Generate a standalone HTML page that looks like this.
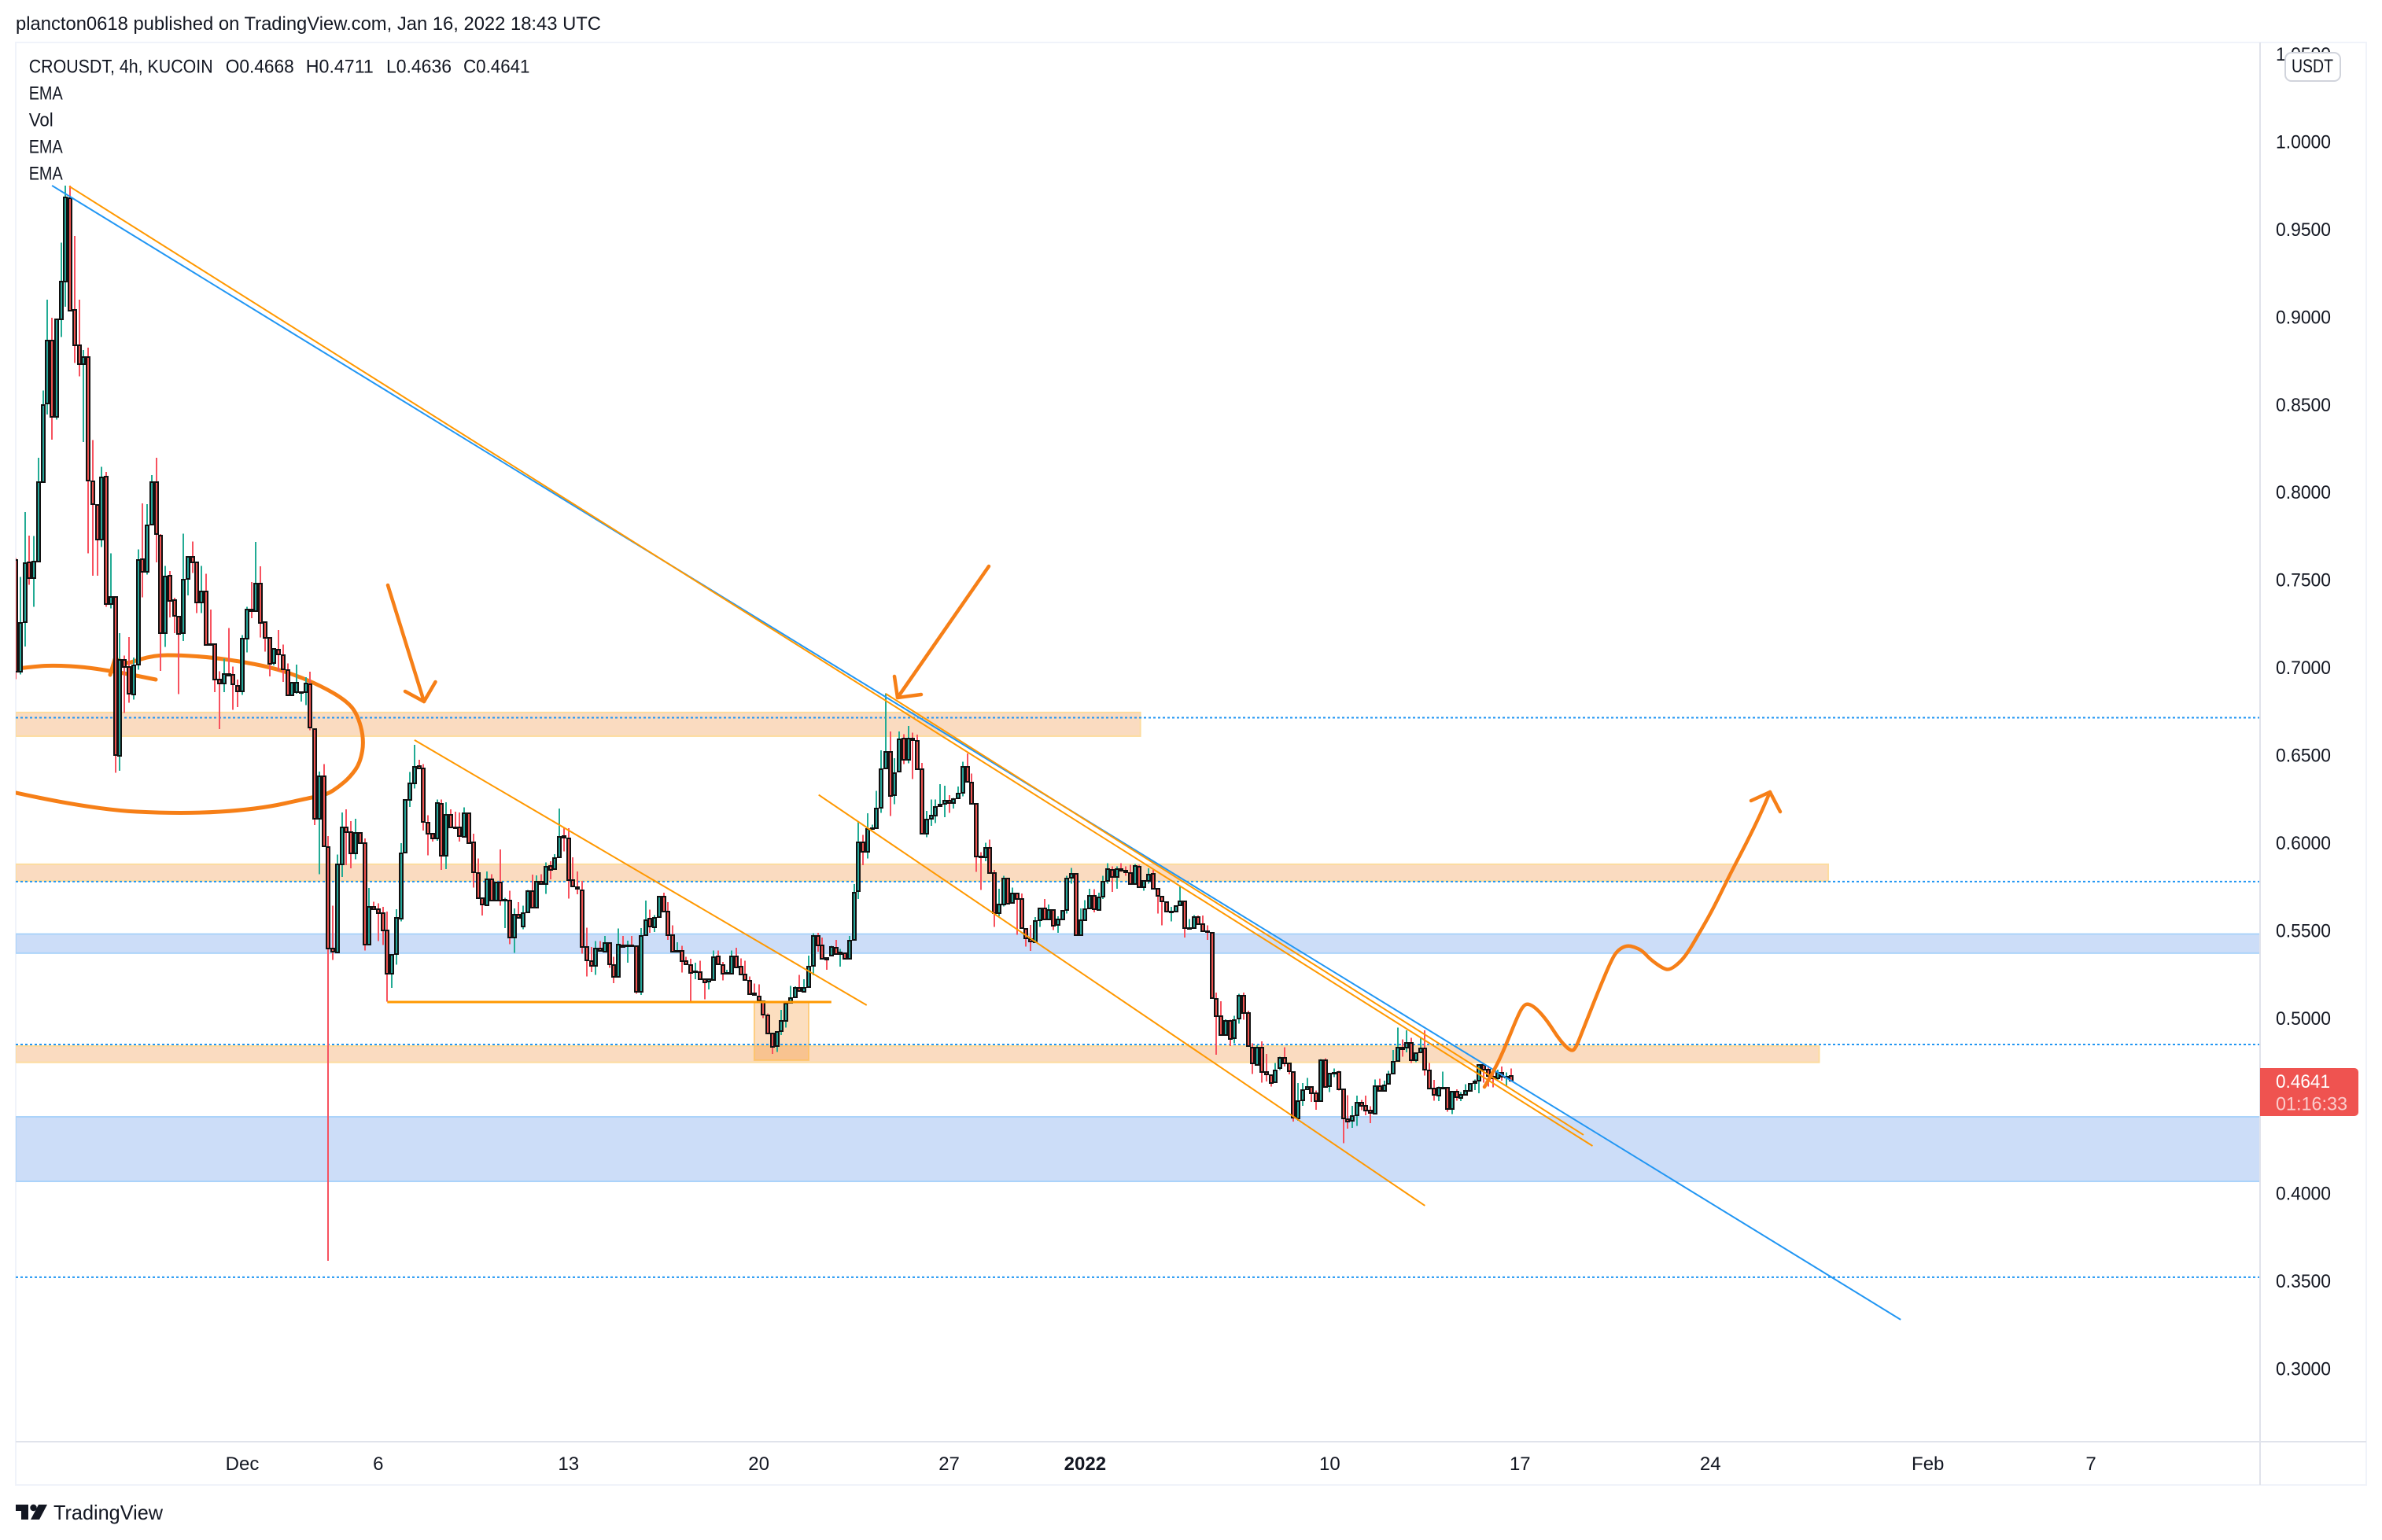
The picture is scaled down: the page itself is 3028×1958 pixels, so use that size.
<!DOCTYPE html>
<html lang="en">
<head>
<meta charset="utf-8">
<title>CROUSDT 4h chart</title>
<style>
html,body{margin:0;padding:0;background:#fff;}
svg{display:block;}
text{font-family:"Liberation Sans",sans-serif;fill:#131722;}
</style>
</head>
<body>
<svg id="root" xmlns="http://www.w3.org/2000/svg" width="3028" height="1958" viewBox="0 0 3028 1958">
  <defs><clipPath id="plot-clip"><rect x="20" y="54" width="2853" height="1779"/></clipPath></defs>
  <rect x="0" y="0" width="3028" height="1958" fill="#ffffff"/>
  <text x="20" y="38" font-size="24" textLength="744" lengthAdjust="spacingAndGlyphs">plancton0618 published on TradingView.com, Jan 16, 2022 18:43 UTC</text>
  <rect x="20" y="54" width="2988" height="1834" fill="#ffffff" stroke="#f0f3fa" stroke-width="2"/>
  <g id="plot" clip-path="url(#plot-clip)"></g>
  <line x1="2873" y1="54" x2="2873" y2="1888" stroke="#e0e3eb" stroke-width="2"/>
  <line x1="20" y1="1833" x2="3008" y2="1833" stroke="#e0e3eb" stroke-width="2"/>
  <g id="price-axis"></g>
  <g id="time-axis"></g>

  <g>
    <text x="36.7" y="92.7" font-size="24" textLength="234" lengthAdjust="spacingAndGlyphs">CROUSDT, 4h, KUCOIN</text>
    <text x="286.7" y="92.7" font-size="24" textLength="87" lengthAdjust="spacingAndGlyphs">O0.4668</text>
    <text x="388.8" y="92.7" font-size="24" textLength="86" lengthAdjust="spacingAndGlyphs">H0.4711</text>
    <text x="491" y="92.7" font-size="24" textLength="83" lengthAdjust="spacingAndGlyphs">L0.4636</text>
    <text x="589" y="92.7" font-size="24" textLength="84.5" lengthAdjust="spacingAndGlyphs">C0.4641</text>
    <text x="36.7" y="126.7" font-size="24" textLength="43" lengthAdjust="spacingAndGlyphs">EMA</text>
    <text x="36.7" y="160.7" font-size="24" textLength="31" lengthAdjust="spacingAndGlyphs">Vol</text>
    <text x="36.7" y="194.7" font-size="24" textLength="43" lengthAdjust="spacingAndGlyphs">EMA</text>
    <text x="36.7" y="228.7" font-size="24" textLength="43" lengthAdjust="spacingAndGlyphs">EMA</text>
  </g>

  <g>
    <rect x="2905" y="67" width="70" height="36" rx="8" fill="#ffffff" stroke="#d1d4dc" stroke-width="2"/>
    <text x="2913" y="92" font-size="24" textLength="53" lengthAdjust="spacingAndGlyphs">USDT</text>
  </g>

  <g>
    <path d="M2873 1358H2993a5 5 0 0 1 5 5V1414a5 5 0 0 1 -5 5H2873Z" fill="#ef5350"/>
    <text x="2893" y="1383" font-size="24" textLength="69" lengthAdjust="spacingAndGlyphs" style="fill:#ffffff">0.4641</text>
    <text x="2893" y="1411.5" font-size="24" textLength="91" lengthAdjust="spacingAndGlyphs" style="fill:#ffffff;fill-opacity:.7">01:16:33</text>
  </g>

  <g>
    <path d="M20 1913H36V1932H27V1921H20Z" fill="#131722"/>
    <circle cx="42.5" cy="1917" r="4.2" fill="#131722"/>
    <path d="M49 1913H60L50 1932H39Z" fill="#131722"/>
    <text x="68" y="1932" font-size="26" textLength="139" lengthAdjust="spacingAndGlyphs">TradingView</text>
  </g>
</svg>

<script>
// Candle series: CROUSDT 4h, prices
const opens=[
.7613,.6978,.7259,.7599,.7509,.7607,.8058,.8507,.8863,.8432,
.8987,.9203,.9679,.9038,.8838,.8729,.8769,.8061,.7927,.7729,
.8088,.7360,.7400,.6497,.7043,.7001,.6847,.7016,.7617,.7547,
.7816,.8058,.7753,.7195,.7524,.7382,.7292,.7195,.7505,.7632,
.7599,.7370,.7435,.7131,.7131,.6930,.6908,.6963,.6956,.6896,
.6866,.7165,.7330,.7320,.7479,.7259,.7170,.7023,.7101,.7071,
.6986,.6841,.6859,.6856,.6859,.6903,.6650,.6139,.6377,.5973,
.5394,.5374,.5875,.6085,.6059,.5940,.6055,.5997,.5416,.5633,
.5621,.5599,.5501,.5252,.5361,.5569,.5943,.6243,.6339,.6436,
.6423,.6116,.6052,.6026,.6224,.5922,.6160,.6089,.6085,.6034,
.6169,.6000,.5825,.5682,.5645,.5793,.5670,.5775,.5667,.5670,
.5461,.5588,.5521,.5603,.5723,.5630,.5778,.5765,.5868,.5845,
.5917,.6037,.6026,.5786,.5745,.5730,.5406,.5326,.5299,.5394,
.5379,.5428,.5301,.5234,.5416,.5412,.5413,.5409,.5150,.5471,
.5566,.5521,.5576,.5693,.5608,.5471,.5379,.5382,.5323,.5304,
.5259,.5262,.5222,.5204,.5219,.5352,.5304,.5255,.5256,.5353,
.5293,.5247,.5214,.5139,.5124,.5097,.5015,.4910,.4836,.4925,
.4987,.5087,.5117,.5172,.5151,.5177,.5296,.5468,.5413,.5341,
.5353,.5401,.5364,.5371,.5341,.5446,.5726,.6004,.5950,.6081,
.6084,.6201,.6425,.6518,.6271,.6407,.6593,.6470,.6593,.6582,
.6421,.6051,.6137,.6156,.6208,.6220,.6241,.6226,.6253,.6283,
.6433,.6343,.6220,.5920,.5917,.5972,.5827,.5598,.5650,.5797,
.5655,.5710,.5680,.5510,.5449,.5434,.5558,.5625,.5565,.5618,
.5531,.5565,.5618,.5800,.5824,.5472,.5561,.5625,.5695,.5618,
.5695,.5782,.5845,.5805,.5849,.5839,.5827,.5764,.5864,.5748,
.5785,.5824,.5737,.5692,.5662,.5604,.5610,.5643,.5665,.5510,
.5513,.5577,.5535,.5493,.5487,.5109,.5011,.4903,.4984,.4885,
.4997,.5127,.5027,.4833,.4732,.4833,.4693,.4675,.4634,.4713,
.4773,.4740,.4690,.4429,.4529,.4593,.4608,.4571,.4526,.4761,
.4611,.4683,.4693,.4593,.4421,.4411,.4441,.4515,.4499,.4470,
.4456,.4611,.4586,.4626,.4683,.4755,.4833,.4830,.4858,.4758,
.4803,.4828,.4701,.4596,.4559,.4601,.4604,.4481,.4578,.4545,
.4563,.4586,.4630,.4643,.4732,.4705,.4665,.4656,.4687,.4663,
.4668];
const closes=[
.6978,.7255,.7595,.7509,.7604,.8058,.8498,.8866,.8429,.8987,
.9203,.9683,.9038,.8838,.8729,.8770,.8066,.7931,.7729,.8085,
.7360,.7400,.6500,.7043,.7001,.6847,.7013,.7614,.7547,.7812,
.8058,.7764,.7195,.7517,.7382,.7292,.7195,.7502,.7629,.7599,
.7370,.7435,.7131,.7128,.6930,.6908,.6960,.6956,.6903,.6866,
.7165,.7330,.7322,.7479,.7255,.7170,.7023,.7105,.7072,.6989,
.6841,.6914,.6914,.6859,.6908,.6657,.6139,.6381,.5977,.5394,
.5374,.5875,.6085,.6059,.5940,.6055,.5997,.5416,.5633,.5621,
.5599,.5501,.5252,.5361,.5569,.5940,.6243,.6339,.6433,.6423,
.6116,.6055,.6026,.6228,.5929,.6157,.6089,.6085,.6037,.6169,
.6000,.5828,.5682,.5645,.5793,.5670,.5775,.5670,.5673,.5458,
.5591,.5569,.5599,.5726,.5630,.5778,.5765,.5865,.5845,.5910,
.6032,.6029,.5787,.5750,.5738,.5406,.5329,.5299,.5397,.5379,
.5428,.5307,.5232,.5419,.5409,.5416,.5409,.5150,.5468,.5558,
.5521,.5573,.5693,.5608,.5473,.5379,.5383,.5323,.5307,.5259,
.5264,.5222,.5204,.5219,.5349,.5308,.5255,.5259,.5353,.5292,
.5247,.5217,.5139,.5129,.5102,.5020,.4910,.4833,.4919,.4982,
.5084,.5114,.5172,.5154,.5172,.5293,.5468,.5416,.5338,.5334,
.5404,.5364,.5374,.5341,.5442,.5715,.6003,.5950,.6078,.6084,
.6197,.6421,.6520,.6268,.6398,.6590,.6473,.6593,.6582,.6422,
.6051,.6131,.6156,.6204,.6219,.6238,.6226,.6250,.6280,.6433,
.6346,.6220,.5920,.5917,.5972,.5827,.5598,.5647,.5797,.5655,
.5710,.5680,.5516,.5456,.5434,.5555,.5625,.5562,.5618,.5528,
.5561,.5613,.5797,.5824,.5475,.5558,.5622,.5695,.5618,.5689,
.5779,.5849,.5805,.5849,.5842,.5830,.5764,.5869,.5748,.5782,
.5820,.5740,.5697,.5665,.5607,.5607,.5640,.5665,.5513,.5513,
.5577,.5538,.5493,.5489,.5113,.5011,.4903,.4984,.4882,.4990,
.5127,.5027,.4837,.4743,.4830,.4695,.4678,.4631,.4701,.4773,
.4743,.4695,.4429,.4526,.4589,.4608,.4574,.4526,.4761,.4608,
.4683,.4687,.4596,.4426,.4409,.4439,.4515,.4499,.4473,.4456,
.4611,.4586,.4616,.4678,.4750,.4830,.4825,.4858,.4758,.4798,
.4825,.4705,.4598,.4559,.4604,.4604,.4481,.4581,.4545,.4563,
.4586,.4626,.4638,.4732,.4705,.4668,.4656,.4687,.4666,.4666,
.4641];
const highs=[
.7625,.7517,.7886,.7752,.7749,.8197,.8579,.9098,.8995,.8987,
.9424,.9749,.9749,.9462,.9098,.8811,.8824,.8298,.7927,.8145,
.8115,.7651,.7400,.7195,.7068,.7173,.7056,.7674,.7936,.7931,
.8097,.8197,.7761,.7580,.7550,.7397,.7292,.7764,.7636,.7719,
.7599,.7580,.7535,.7330,.7135,.6978,.7050,.7225,.7005,.6930,
.7185,.7345,.7487,.7716,.7577,.7259,.7170,.7105,.7213,.7131,
.7023,.6914,.7016,.6859,.6945,.6975,.6650,.6406,.6448,.6037,
.5641,.5932,.6172,.6190,.6124,.6137,.6060,.6025,.5742,.5663,
.5655,.5633,.5606,.5361,.5621,.5997,.6246,.6403,.6558,.6474,
.6448,.6157,.6052,.6246,.6246,.6231,.6190,.6176,.6172,.6202,
.6169,.6052,.5910,.5682,.5835,.5820,.5775,.5962,.5685,.5727,
.5626,.5660,.5641,.5730,.5817,.5813,.5820,.5887,.5895,.5935,
.6194,.6082,.6082,.5917,.5835,.5783,.5516,.5406,.5439,.5439,
.5468,.5431,.5349,.5510,.5468,.5442,.5468,.5409,.5513,.5670,
.5618,.5588,.5697,.5715,.5660,.5528,.5431,.5413,.5349,.5337,
.5316,.5326,.5222,.5219,.5386,.5386,.5319,.5274,.5386,.5401,
.5341,.5326,.5237,.5196,.5192,.5097,.5027,.4910,.4919,.5047,
.5094,.5184,.5181,.5247,.5222,.5356,.5483,.5486,.5458,.5341,
.5412,.5446,.5394,.5371,.5468,.5765,.6119,.6044,.6168,.6104,
.6295,.6526,.6852,.6635,.6482,.6635,.6620,.6665,.6627,.6617,
.6455,.6182,.6246,.6246,.6333,.6324,.6271,.6255,.6321,.6463,
.6508,.6395,.6220,.5947,.5999,.6018,.5845,.5737,.5812,.5797,
.5745,.5710,.5710,.5510,.5531,.5576,.5625,.5680,.5647,.5618,
.5580,.5613,.5812,.5857,.5824,.5625,.5673,.5737,.5734,.5715,
.5812,.5884,.5864,.5864,.5884,.5864,.5875,.5879,.5875,.5782,
.5854,.5846,.5737,.5692,.5662,.5633,.5640,.5752,.5665,.5565,
.5588,.5585,.5585,.5528,.5487,.5146,.5096,.4993,.4990,.5012,
.5139,.5144,.5042,.4855,.4847,.4867,.4795,.4675,.4743,.4780,
.4833,.4740,.4690,.4628,.4628,.4657,.4608,.4586,.4765,.4770,
.4686,.4713,.4698,.4593,.4560,.4499,.4556,.4533,.4556,.4496,
.4649,.4653,.4643,.4698,.4818,.4945,.4877,.4930,.4888,.4803,
.4888,.4930,.4743,.4646,.4608,.4695,.4604,.4581,.4593,.4578,
.4623,.4630,.4650,.4735,.4735,.4728,.4698,.4705,.4723,.4690,
.4711];
const lows=[
.6933,.6960,.7120,.7472,.7345,.7607,.8058,.8444,.8299,.8414,
.8886,.9058,.9038,.8736,.8661,.8287,.7651,.7524,.7524,.7686,
.7345,.7337,.6398,.6410,.6739,.6799,.6817,.6986,.7400,.7529,
.7816,.7599,.6981,.7116,.7285,.7195,.6847,.7150,.7412,.7539,
.7310,.7310,.7131,.7128,.6859,.6649,.6859,.6956,.6757,.6773,
.6844,.7086,.7280,.7320,.7170,.7090,.6948,.7011,.6978,.6918,
.6836,.6836,.6851,.6806,.6784,.6642,.6100,.5820,.5977,.3615,
.5331,.5374,.5805,.5872,.5854,.5905,.5997,.5386,.5416,.5621,
.5439,.5416,.5094,.5172,.5304,.5551,.5943,.6205,.6309,.6423,
.6070,.5928,.6007,.6010,.5845,.5850,.6089,.6085,.6007,.6034,
.6000,.5745,.5682,.5585,.5645,.5670,.5670,.5641,.5513,.5421,
.5371,.5569,.5506,.5603,.5630,.5630,.5765,.5708,.5790,.5845,
.5917,.5950,.5681,.5750,.5705,.5367,.5237,.5262,.5247,.5379,
.5379,.5286,.5199,.5234,.5409,.5316,.5409,.5139,.5132,.5471,
.5486,.5491,.5576,.5608,.5446,.5379,.5379,.5259,.5307,.5091,
.5222,.5222,.5106,.5162,.5219,.5308,.5214,.5255,.5256,.5292,
.5247,.5217,.5139,.5129,.5102,.5000,.4910,.4795,.4806,.4903,
.4945,.5087,.5117,.5154,.5151,.5177,.5244,.5379,.5338,.5274,
.5353,.5364,.5292,.5341,.5341,.5446,.5678,.5872,.5909,.6081,
.6084,.6171,.6425,.6152,.6219,.6407,.6448,.6452,.6363,.6422,
.6051,.6032,.6096,.6111,.6208,.6146,.6171,.6194,.6253,.6264,
.6346,.6220,.5834,.5730,.5894,.5827,.5520,.5580,.5636,.5655,
.5655,.5475,.5516,.5408,.5383,.5434,.5520,.5562,.5565,.5501,
.5486,.5565,.5595,.5767,.5475,.5468,.5561,.5625,.5603,.5618,
.5680,.5767,.5719,.5737,.5834,.5812,.5760,.5764,.5748,.5725,
.5767,.5740,.5595,.5528,.5607,.5550,.5610,.5643,.5460,.5510,
.5513,.5538,.5493,.5446,.5113,.4791,.4903,.4903,.4840,.4855,
.4967,.4990,.4837,.4680,.4732,.4631,.4638,.4608,.4634,.4702,
.4723,.4678,.4409,.4414,.4499,.4593,.4521,.4476,.4526,.4608,
.4578,.4663,.4586,.4286,.4369,.4373,.4384,.4473,.4444,.4399,
.4456,.4586,.4586,.4626,.4683,.4755,.4780,.4803,.4743,.4747,
.4803,.4672,.4598,.4529,.4526,.4601,.4466,.4451,.4529,.4526,
.4563,.4586,.4589,.4571,.4631,.4608,.4605,.4646,.4643,.4608,
.4636];

// Axis ticks
const priceTicks=[1.05,1,.95,.9,.85,.8,.75,.7,.65,.6,.55,.5,.45,.4,.35,.3];
const timeTickBars=[50,80,122,164,206,236,290,332,374,422,458];
const timeTickLabels=["Dec","6","13","20","27","2022","10","17","24","Feb","7"];

// Drawing tools, in chart units: bar index and price
const zoneTops=[.6743,.5877,.5479,.4840,.4436];
const zoneBottoms=[.6608,.5782,.5370,.4747,.4068];
const zoneEndBars=[248.2,400,500,398,500];
const zoneKinds=["supply","supply","demand","supply","demand"];
const dottedLevels=[.6713,.5778,.4849,.3521];
const trendStartBars=[8,11.8,192,177.2,88,82];
const trendStartPrices=[.9749,.9745,.6850,.6273,.6586,.5091];
const trendEndBars=[416,348,346,311,187.8,180];
const trendEndPrices=[.3279,.4270,.4333,.3929,.5073,.5091];
const trendKinds=["blue","orange","orange","orange","orange","orange"];
const boxBars=[163,175];
const boxPrices=[.5091,.4759];

const NS='http://www.w3.org/2000/svg';
const plot=document.getElementById('plot');
const priceAxis=document.getElementById('price-axis');
const timeAxis=document.getElementById('time-axis');
const xAt=i=>20+i*5.76;
const yAt=p=>180+(1-p)*2228.6;
function mk(tag,parent,attrs){
  const el=document.createElementNS(NS,tag);
  for(const k in attrs){el.setAttribute(k,attrs[k]);}
  parent.appendChild(el);
  return el;
}
// Turns a freehand point list into a smooth curve through segment midpoints
function smoothPath(str){
  const p=str.trim().split(/\s+/).map(s=>s.split(',').map(Number));
  let d='M'+p[0][0]+' '+p[0][1];
  for(let i=1;i<p.length-1;i++){
    const mx=(p[i][0]+p[i+1][0])/2;
    const my=(p[i][1]+p[i+1][1])/2;
    d+=' Q'+p[i][0]+' '+p[i][1]+' '+mx+' '+my;
  }
  const last=p[p.length-1];
  return d+' L'+last[0]+' '+last[1];
}

// Zones
zoneTops.forEach((top,k)=>{
  const orange=zoneKinds[k]==='supply';
  const el=mk('rect',plot,{x:20,y:yAt(top),width:xAt(zoneEndBars[k])-20,height:yAt(zoneBottoms[k])-yAt(top),
    fill:orange?'#fadbc0':'#ccddf8',stroke:orange?'#fddc9f':'#abd3fa','stroke-width':2});
  
  
});
// Highlight box
{
  const el=mk('rect',plot,{x:xAt(boxBars[0]),y:yAt(boxPrices[0]),width:xAt(boxBars[1])-xAt(boxBars[0]),height:yAt(boxPrices[1])-yAt(boxPrices[0]),
    fill:'rgba(245,124,0,.25)',stroke:'rgba(255,193,90,.7)','stroke-width':2});
  
  
}
// Dotted levels
dottedLevels.forEach(level=>{
  const el=mk('line',plot,{x1:20,x2:2873,y1:yAt(level),y2:yAt(level),stroke:'#2196f3','stroke-width':2,'stroke-dasharray':'3 3'});
  
  
});
// Freehand ellipse sits under the candles
const ellipseA=mk('path',plot,{d:smoothPath('20,1008 116,1029 232,1035 328,1029 396,1014 416,1010 431,1000 445,988 458,970 463,940 454,907 439,890 408,872 372,857 342,848 306,841 270,836 230,833 196,833 163,843'),fill:'none',stroke:'#f67f17','stroke-width':5,'stroke-linejoin':'round','stroke-linecap':'round'});


const ellipseTip=mk('polyline',plot,{points:'163,843 146,838 140,858',fill:'none',stroke:'#f67f17','stroke-width':5,'stroke-linejoin':'round','stroke-linecap':'round'});


const ellipseB=mk('path',plot,{d:smoothPath('23,850 47,847 71,846 107,848 140,853 163,857 198,864'),fill:'none',stroke:'#f67f17','stroke-width':5,'stroke-linejoin':'round','stroke-linecap':'round'});



// Candles
const candleLayer=mk('g',plot,{'shape-rendering':'crispEdges'});


closes.forEach((close,i)=>{
  const open=opens[i];
  const up=close>=open;
  const cx=Math.round(xAt(i));
  const wick=mk('rect',candleLayer,{x:cx-1,y:yAt(highs[i]),width:2,height:Math.max(1,yAt(lows[i])-yAt(highs[i])),fill:up?'#22ab94':'#f7525f'});
  
  
  const top=yAt(Math.max(open,close));
  const h=Math.max(1,yAt(Math.min(open,close))-top);
  const body=mk('rect',candleLayer,{x:cx-2,y:Math.round(top),width:4,height:Math.round(h),fill:up?'#26a69a':'#ef5350',stroke:'#111111','stroke-width':2});
  
  
});

// Trend lines
trendKinds.forEach((kind,k)=>{
  const el=mk('line',plot,{x1:xAt(trendStartBars[k]),y1:yAt(trendStartPrices[k]),x2:xAt(trendEndBars[k]),y2:yAt(trendEndPrices[k]),
    stroke:kind==='blue'?'#2196f3':'#ff9800','stroke-width':k===5?3:2});
  
  
});

// Freehand arrows
const arrowLine1=mk('polyline',plot,{points:'493,744 539,892',fill:'none',stroke:'#f67f17','stroke-width':4.5,'stroke-linecap':'round'});


const arrowHead1=mk('polyline',plot,{points:'515,879 539,892 553.5,867',fill:'none',stroke:'#f67f17','stroke-width':4.5,'stroke-linecap':'round','stroke-linejoin':'round'});


const arrowLine2=mk('polyline',plot,{points:'1257,720 1141,887',fill:'none',stroke:'#f67f17','stroke-width':4.5,'stroke-linecap':'round'});


const arrowHead2=mk('polyline',plot,{points:'1137,860 1141,887 1171,883',fill:'none',stroke:'#f67f17','stroke-width':4.5,'stroke-linecap':'round','stroke-linejoin':'round'});


const projection=mk('path',plot,{d:smoothPath('1887,1382 1900,1360 1913,1332 1930,1290 1937,1278 1943,1276 1953,1282 1967,1298 1983,1323 1997,1337 2003,1333 2012,1310 2018,1295 2033,1257 2050,1217 2058,1207 2068,1202 2078,1204 2088,1209 2098,1220 2115,1232 2123,1233 2135,1224 2145,1212 2158,1190 2177,1157 2200,1110 2220,1072 2238,1035 2250,1007'),fill:'none',stroke:'#f67f17','stroke-width':4.5,'stroke-linecap':'round','stroke-linejoin':'round'});


const projectionHead=mk('polyline',plot,{points:'2226,1018 2250,1007 2263,1032',fill:'none',stroke:'#f67f17','stroke-width':4.5,'stroke-linecap':'round','stroke-linejoin':'round'});



// Price axis labels
priceTicks.forEach(t=>{
  const el=mk('text',priceAxis,{x:2893,y:yAt(t)+8.5,'font-size':24,textLength:70,lengthAdjust:'spacingAndGlyphs'});
  el.textContent=t.toFixed(4);
  
  
});
// Time axis labels
timeTickBars.forEach((bar,k)=>{
  const el=mk('text',timeAxis,{x:xAt(bar),y:1869,'font-size':24,'text-anchor':'middle','font-weight':timeTickLabels[k]==='2022'?'bold':'normal'});
  el.textContent=timeTickLabels[k];
  
  
});
</script>
</body>
</html>
